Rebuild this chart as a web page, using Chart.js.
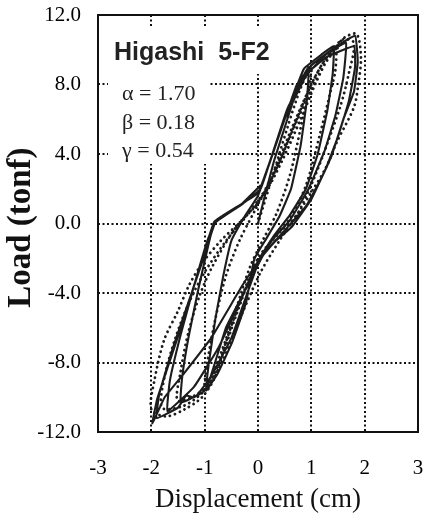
<!DOCTYPE html>
<html>
<head>
<meta charset="utf-8">
<script src="https://cdn.jsdelivr.net/npm/chart.js@4.4.1/dist/chart.umd.min.js"></script>
<style>
html,body{margin:0;padding:0;background:#fff;}
#wrap{width:429px;height:523px;}
</style>
</head>
<body>
<div id="wrap"><canvas id="c" width="429" height="523"></canvas></div>
<script>
// ---- data ----
const xTickLabels = ['-3','-2','-1','0','1','2','3'];
const yTickLabels = ['-12.0','-8.0','-4.0','0.0','4.0','8.0','12.0'];
const titleText = 'Higashi  5-F2';
const paramLines = ['\u03b1 = 1.70','\u03b2 = 0.18','\u03b3 = 0.54'];

// experimental curve (solid): displacement (cm)
const expDisp = [0,0.12,0.3,0.55,0.75,0.95,
 0.92,0.8,0.62,0.4,0.15,-0.07,-0.22,-0.48,-0.75,-0.97,
 -0.92,-0.8,-0.65,-0.5,-0.25,0.0,0.22,0.5,0.86,1.18,1.42,
 1.4,1.3,1.12,0.9,0.6,0.3,0.05,-0.2,-0.5,-0.88,-1.15,-1.45,
 -1.42,-1.3,-1.12,-0.95,-0.82,-0.4,0.02,0.26,0.5,0.73,1.0,1.38,1.82,
 1.87,1.8,1.6,1.38,1.0,0.64,0.3,0.05,-0.3,-0.88,-1.38,-1.75,-1.98,
 -1.89,-1.5,-1.1,-0.82,-0.4,0.02,0.26,0.55,0.9,1.3,1.8,
 1.82,1.7,1.5,1.25,0.9,0.5,0.12,-0.2,-0.6,-0.97,-1.2,-1.35,-1.5,-1.9,
 -1.85,-1.6,-1.3,-1.0,-0.8,-0.3,0.05,0.25,0.5,0.9,1.3,1.65,
 1.6,1.45,1.25,0.95,0.6,0.25,0.0,-0.35,-0.75,-1.2,-1.7,
 -1.65,-1.45,-1.2,-0.95,-0.78,-0.35,0.05];
// experimental curve (solid): load (tonf)
const expLoad = [0,1.5,3.6,6.0,7.9,9.0,
 7.2,4.5,2.0,0.4,-0.9,-2.05,-4.5,-6.8,-8.6,-9.6,
 -8.0,-5.5,-3.0,-1.0,0.4,1.6,3.5,6.0,8.9,9.7,10.2,
 8.6,6.5,4.0,2.0,0.5,-0.7,-1.9,-4.0,-6.6,-8.8,-9.9,-10.3,
 -8.8,-6.5,-3.8,-1.5,0.0,0.9,1.9,3.9,6.0,8.0,9.1,10.0,10.8,
 9.3,7.6,6.0,3.9,1.4,-0.17,-1.1,-2.0,-3.6,-6.6,-8.6,-10.0,-11.5,
 -10.1,-6.5,-2.6,0.1,0.95,1.8,3.9,6.6,8.6,9.6,10.2,
 9.0,7.0,5.0,3.0,1.0,-0.4,-1.7,-3.6,-6.0,-9.55,-10.0,-9.9,-10.6,-11.2,
 -9.8,-7.2,-4.5,-1.8,0.05,1.1,2.0,3.8,6.0,8.5,9.8,10.4,
 8.4,6.2,4.2,2.0,0.2,-1.0,-2.2,-4.6,-7.2,-9.4,-10.8,
 -9.0,-6.4,-3.6,-1.0,0.2,1.0,2.2];

// analytical model curve (dotted)
const modDisp = [0,0.25,0.55,0.8,1.0,
 0.95,0.8,0.6,0.35,0.1,-0.15,-0.4,-0.7,-1.0,
 -0.95,-0.8,-0.6,-0.35,-0.05,0.3,0.65,1.0,1.25,1.45,
 1.45,1.36,1.15,0.9,0.6,0.25,-0.1,-0.4,-0.7,-1.0,-1.5,
 -1.45,-1.3,-1.1,-0.86,-0.41,0.0,0.35,0.7,1.0,1.25,1.45,1.62,1.85,
 1.93,1.88,1.8,1.48,1.27,1.0,0.7,0.35,0.0,-0.3,-0.6,-0.8,-1.05,-1.38,-1.72,-2.0,
 -1.94,-1.76,-1.51,-1.3,-1.05,-0.7,-0.3,0.1,0.45,0.8,1.1,1.4,1.6,1.8,
 1.7,1.55,1.3,1.05,0.75,0.4,0.05,-0.3,-0.65,-1.0,-1.4,-1.8,
 -1.75,-1.55,-1.3,-1.0,-0.6,-0.2,0.25,0.6,0.95,1.3,1.55];
const modLoad = [0,2.5,5.5,7.8,9.0,
 7.8,5.5,2.8,0.6,-0.9,-2.5,-4.8,-7.5,-9.6,
 -8.0,-5.5,-3.0,-1.0,0.8,3.0,5.6,8.0,9.4,10.1,
 8.8,7.6,5.0,2.2,0.3,-1.0,-2.8,-5.2,-7.8,-9.5,-10.2,
 -8.5,-6.2,-4.2,-2.5,-0.2,1.2,3.2,5.8,8.0,9.4,10.1,10.7,10.9,
 9.55,8.0,6.7,4.7,3.2,1.8,0.4,-0.7,-2.0,-4.2,-6.8,-8.8,-10.0,-10.7,-11.1,-10.7,
 -9.0,-6.7,-5.1,-3.6,-2.3,-1.0,0.2,1.6,3.6,6.0,8.2,10.0,10.6,10.4,
 8.6,6.8,4.6,2.6,0.6,-1.0,-2.8,-5.2,-7.8,-9.6,-10.5,-10.6,
 -8.8,-6.6,-4.6,-2.8,-1.0,0.5,2.5,5.0,7.4,9.4,10.3];

const toPts = (xs, ys) => xs.map((x, i) => ({x: x, y: ys[i]}));

const frame = {
  id: 'frame',
  beforeDatasetsDraw(chart) {
    const {ctx} = chart;
    ctx.save();
    // white backing behind annotation text
    ctx.fillStyle = '#fff';
    ctx.fillRect(108, 28, 172, 46);
    ctx.fillRect(108, 74, 102, 90);
    ctx.fillStyle = '#222';
    ctx.textBaseline = 'alphabetic';
    ctx.textAlign = 'left';
    ctx.font = 'bold 25px "Liberation Sans", Arial, sans-serif';
    ctx.fillText(titleText, 114, 60);
    ctx.font = '22px "Liberation Serif", "Times New Roman", serif';
    const ys = [100, 129, 157];
    paramLines.forEach((t, i) => ctx.fillText(t, 122, ys[i]));
    ctx.restore();
  },
  afterDraw(chart) {
    const {ctx, chartArea: a} = chart;
    ctx.save();
    ctx.strokeStyle = '#111';
    ctx.lineWidth = 2;
    ctx.strokeRect(a.left, a.top, a.right - a.left, a.bottom - a.top);
    ctx.restore();
  }
};

const gridColor = (c) => (c.index === 0 || c.index === 6) ? 'rgba(0,0,0,0)' : '#111';
const serif = '"Liberation Serif", "Times New Roman", serif';

new Chart(document.getElementById('c'), {
  type: 'scatter',
  data: {
    datasets: [
      {
        label: 'Model',
        data: toPts(modDisp, modLoad),
        showLine: true,
        borderColor: '#1c1c1c',
        borderWidth: 2.8,
        borderDash: [0.1, 5.2],
        borderCapStyle: 'round',
        tension: 0.3,
        pointRadius: 0,
        fill: false
      },
      {
        label: 'Experiment',
        data: toPts(expDisp, expLoad),
        showLine: true,
        borderColor: '#1c1c1c',
        borderWidth: 2.1,
        tension: 0.1,
        pointRadius: 0,
        fill: false
      }
    ]
  },
  options: {
    responsive: false,
    animation: false,
    events: [],
    layout: {padding: {top: 15, right: 11, left: 0, bottom: 0}},
    plugins: {legend: {display: false}, tooltip: {enabled: false}},
    scales: {
      x: {
        type: 'linear', min: -3, max: 3,
        afterFit: (s) => { s.height = 91; s.paddingLeft = 0; s.paddingRight = 0; },
        afterBuildTicks: (s) => { s.ticks = xTickLabels.map((t, i) => ({value: -3 + i})); },
        ticks: {
          stepSize: 1, padding: 24, color: '#000', maxRotation: 0,
          font: {family: serif, size: 21},
          callback: (v, i) => xTickLabels[i]
        },
        grid: {color: gridColor, lineWidth: 2, drawTicks: false},
        border: {display: false, dash: [2, 2.5]},
        title: {
          display: true, text: 'Displacement (cm)', color: '#111',
          font: {family: serif, size: 27},
          padding: {top: 0, bottom: 7}
        }
      },
      y: {
        type: 'linear', min: -12, max: 12,
        afterFit: (s) => { s.width = 98; s.paddingTop = 0; s.paddingBottom = 0; },
        afterBuildTicks: (s) => { s.ticks = yTickLabels.map((t, i) => ({value: -12 + 4 * i})); },
        ticks: {
          stepSize: 4, padding: 17, color: '#000',
          font: {family: serif, size: 21},
          callback: (v, i) => yTickLabels[i]
        },
        grid: {color: gridColor, lineWidth: 2, drawTicks: false},
        border: {display: false, dash: [2, 2.5]},
        title: {
          display: true, text: 'Load (tonf)\u00a0', color: '#111',
          font: {family: serif, size: 33, weight: 'bold'},
          padding: {top: 2, bottom: 0}
        }
      }
    }
  },
  plugins: [frame]
});
</script>
</body>
</html>
